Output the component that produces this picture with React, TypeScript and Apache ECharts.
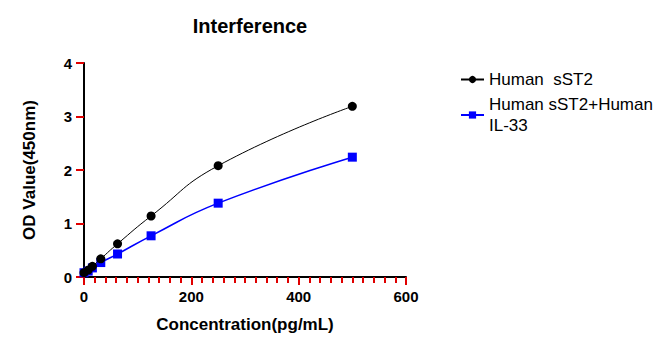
import React, { useEffect, useRef } from "react";
import * as echarts from "echarts";

const concentrations = [0, 7.8125, 15.625, 31.25, 62.5, 125, 250, 500];
const sST2Values = [0.08, 0.13, 0.2, 0.34, 0.62, 1.14, 2.08, 3.19];
const sST2IL33Values = [0.08, 0.11, 0.17, 0.27, 0.43, 0.77, 1.38, 2.24];
const seriesNames = ["Human  sST2", "Human sST2+Human IL-33"];
const legendLabels = ["Human  sST2", "Human sST2+Human\nIL-33"];
const xTicks = [0, 200, 400, 600];
const yTicks = [0, 1, 2, 3, 4];

const FONT = "'Liberation Sans', Arial, sans-serif";

export default function App() {
  const ref = useRef<HTMLDivElement>(null);
  useEffect(() => {
    if (!ref.current) return;
    const chart = echarts.init(ref.current, undefined, { renderer: "svg" });
    const pair = (vals: number[]) => concentrations.map((c, i) => [c, vals[i]]);
    const xMin = xTicks[0];
    const xMax = xTicks[xTicks.length - 1];
    const yMin = yTicks[0];
    const yMax = yTicks[yTicks.length - 1];
    chart.setOption({
      animation: false,
      title: {
        text: "Interference",
        left: 245,
        top: 11,
        textAlign: "center",
        textStyle: { fontFamily: FONT, fontSize: 20, fontWeight: "bold", color: "#000" },
      },
      grid: { left: 84, right: 266, top: 63, bottom: 73 },
      legend: {
        orient: "vertical",
        left: 455,
        top: 64,
        itemWidth: 23,
        itemHeight: 9,
        itemGap: 4,
        data: seriesNames,
        formatter: (name: string) => legendLabels[seriesNames.indexOf(name)],
        textStyle: { fontFamily: FONT, fontSize: 17, color: "#000", lineHeight: 21 },
      },
      xAxis: {
        type: "value",
        min: xMin,
        max: xMax,
        interval: 200,
        name: "Concentration(pg/mL)",
        nameLocation: "middle",
        nameGap: 39,
        nameTextStyle: { fontFamily: FONT, fontSize: 17, fontWeight: "bold", color: "#000" },
        axisLine: { show: true, lineStyle: { color: "#000", width: 2 } },
        axisTick: { show: true, length: 8, lineStyle: { color: "#e00000", width: 2 } },
        minorTick: { show: true, splitNumber: 10, length: 6, lineStyle: { color: "#e00000", width: 2 } },
        splitLine: { show: true, lineStyle: { color: "rgba(0,0,0,0)" } },
        axisLabel: { fontFamily: FONT, fontSize: 15, fontWeight: "bold", color: "#000", margin: 12 },
      },
      yAxis: {
        type: "value",
        min: yMin,
        max: yMax,
        interval: 1,
        name: "OD Value(450nm)",
        nameLocation: "middle",
        nameGap: 46,
        nameTextStyle: { fontFamily: FONT, fontSize: 17, fontWeight: "bold", color: "#000" },
        axisLine: { show: true, lineStyle: { color: "#000", width: 2 } },
        axisTick: { show: true, length: 8, lineStyle: { color: "#e00000", width: 2 } },
        splitLine: { show: true, lineStyle: { color: "rgba(0,0,0,0)" } },
        axisLabel: { fontFamily: FONT, fontSize: 15, fontWeight: "bold", color: "#000", margin: 12 },
      },
      series: [
        {
          name: seriesNames[0],
          type: "line",
          data: pair(sST2Values),
          smooth: 0.5,
          symbol: "circle",
          symbolSize: 9,
          itemStyle: { color: "#000" },
          lineStyle: { color: "#000", width: 1 },
          z: 5,
        },
        {
          name: seriesNames[1],
          type: "line",
          data: pair(sST2IL33Values),
          smooth: 0.5,
          symbol: "rect",
          symbolSize: 9,
          itemStyle: { color: "#0000ff" },
          lineStyle: { color: "#0000ff", width: 1.5 },
          z: 4,
        },
      ],
    });
    return () => chart.dispose();
  }, []);
  return (
    <div
      ref={ref}
      style={{ position: "absolute", left: 0, top: 0, width: 672, height: 350 }}
    />
  );
}
